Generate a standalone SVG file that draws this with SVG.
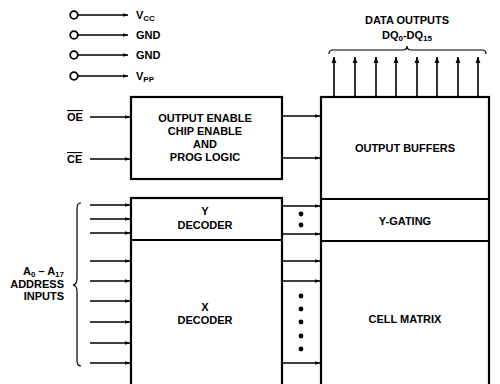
<svg xmlns="http://www.w3.org/2000/svg" width="500" height="384" viewBox="0 0 500 384">
<defs>
<marker id="ah" viewBox="0 0 10 10" refX="10" refY="5" markerWidth="7" markerHeight="5" orient="auto" markerUnits="userSpaceOnUse">
<path d="M0,1.5 L10,5 L0,8.5 Z" fill="#000"/>
</marker>
<marker id="au" viewBox="0 0 10 10" refX="10" refY="5" markerWidth="8" markerHeight="6" orient="auto" markerUnits="userSpaceOnUse">
<path d="M0,1 L10,5 L0,9 Z" fill="#000"/>
</marker>
</defs>
<style>
text{font-family:"Liberation Sans",Arial,sans-serif;font-weight:bold;font-size:11px;fill:#000}
.c{text-anchor:middle}
.r{text-anchor:end}
.box{fill:#fff;stroke:#000;stroke-width:2.2}
.div{stroke:#000;stroke-width:2;fill:none}
.ln{stroke:#000;stroke-width:1.3;fill:none;marker-end:url(#ah)}
.up{stroke:#000;stroke-width:1.6;fill:none;marker-end:url(#au)}
.pin{fill:#fff;stroke:#000;stroke-width:1.8}
.br{stroke:#000;stroke-width:1.2;fill:none}
.sub{font-size:8px}
</style>
<rect width="500" height="384" fill="#fff"/>

<g id="power">
<circle class="pin" cx="74" cy="15" r="3.8"/>
<circle class="pin" cx="74" cy="35" r="3.8"/>
<circle class="pin" cx="74" cy="55" r="3.8"/>
<circle class="pin" cx="74" cy="76" r="3.8"/>
<text x="136" y="19">V<tspan class="sub" dy="2">CC</tspan></text>
<text x="136" y="39">GND</text>
<text x="136" y="59">GND</text>
<text x="136" y="80">V<tspan class="sub" dy="2">PP</tspan></text>
</g>

<g id="data-outputs-label">
<text class="c" x="407" y="24">DATA OUTPUTS</text>
<text class="c" x="407" y="39">DQ<tspan class="sub" dy="2">0</tspan><tspan dy="-2">-DQ</tspan><tspan class="sub" dy="2">15</tspan></text>
<path class="br" d="M329,54 Q329,50 333,50 L403,50 Q407,50 407,46 Q407,50 411,50 L482,50 Q486,50 486,54"/>
</g>

<g id="oe-ce-labels">
<text x="67" y="121" style="text-decoration:overline">OE</text>
<text x="67" y="163" style="text-decoration:overline">CE</text>
</g>

<g id="address-label">
<text class="r" x="64" y="275">A<tspan class="sub" dy="2">0</tspan><tspan dy="-2"> – A</tspan><tspan class="sub" dy="2">17</tspan></text>
<text class="r" x="64" y="288">ADDRESS</text>
<text class="r" x="64" y="300">INPUTS</text>
<path class="br" d="M81,203 Q77,203 77,208 L77,279 Q77,284 73,285 Q77,286 77,291 L77,361 Q77,366 81,366"/>
</g>

<g id="control-logic">
<rect class="box" x="131" y="97" width="151" height="82"/>
<text class="c" x="205" y="122">OUTPUT ENABLE</text>
<text class="c" x="205" y="135">CHIP ENABLE</text>
<text class="c" x="205" y="148">AND</text>
<text class="c" x="205" y="161">PROG LOGIC</text>
</g>

<g id="decoders">
<rect class="box" x="131" y="198" width="151" height="190"/>
<line class="div" x1="131" y1="240" x2="282" y2="240"/>
<text class="c" x="205" y="215">Y</text>
<text class="c" x="205" y="229">DECODER</text>
<text class="c" x="205" y="311">X</text>
<text class="c" x="205" y="324">DECODER</text>
</g>

<g id="right-column">
<rect class="box" x="321" y="97" width="168" height="291"/>
<line class="div" x1="321" y1="199" x2="489" y2="199"/>
<line class="div" x1="321" y1="241" x2="489" y2="241"/>
<text class="c" x="405" y="152">OUTPUT BUFFERS</text>
<text class="c" x="405" y="225">Y-GATING</text>
<text class="c" x="405" y="323">CELL MATRIX</text>
</g>

<g id="connectors">
<line class="ln" x1="78" y1="15" x2="128" y2="15"/>
<line class="ln" x1="78" y1="35" x2="128" y2="35"/>
<line class="ln" x1="78" y1="55" x2="128" y2="55"/>
<line class="ln" x1="78" y1="76" x2="128" y2="76"/>

<line class="ln" x1="90" y1="117" x2="130" y2="117"/>
<line class="ln" x1="90" y1="159" x2="130" y2="159"/>

<line class="ln" x1="283" y1="116" x2="320" y2="116"/>
<line class="ln" x1="283" y1="158" x2="320" y2="158"/>

<line class="up" x1="334" y1="96" x2="334" y2="57"/>
<line class="up" x1="355" y1="96" x2="355" y2="57"/>
<line class="up" x1="376" y1="96" x2="376" y2="57"/>
<line class="up" x1="396" y1="96" x2="396" y2="57"/>
<line class="up" x1="417" y1="96" x2="417" y2="57"/>
<line class="up" x1="437" y1="96" x2="437" y2="57"/>
<line class="up" x1="458" y1="96" x2="458" y2="57"/>
<line class="up" x1="478" y1="96" x2="478" y2="57"/>

<line class="ln" x1="90" y1="205" x2="130" y2="205"/>
<line class="ln" x1="90" y1="219" x2="130" y2="219"/>
<line class="ln" x1="90" y1="233" x2="130" y2="233"/>
<line class="ln" x1="90" y1="261" x2="130" y2="261"/>
<line class="ln" x1="90" y1="281" x2="130" y2="281"/>
<line class="ln" x1="90" y1="301" x2="130" y2="301"/>
<line class="ln" x1="90" y1="322" x2="130" y2="322"/>
<line class="ln" x1="90" y1="343" x2="130" y2="343"/>
<line class="ln" x1="90" y1="363" x2="130" y2="363"/>

<line class="ln" x1="283" y1="206" x2="320" y2="206"/>
<line class="ln" x1="283" y1="234" x2="320" y2="234"/>
<line class="ln" x1="283" y1="261" x2="320" y2="261"/>
<line class="ln" x1="283" y1="281" x2="320" y2="281"/>
<line class="ln" x1="283" y1="363" x2="320" y2="363"/>

<g fill="#000">
<circle cx="301" cy="214" r="2.4"/>
<circle cx="301" cy="225" r="2.4"/>
<circle cx="301" cy="296" r="2.4"/>
<circle cx="301" cy="309" r="2.4"/>
<circle cx="301" cy="322" r="2.4"/>
<circle cx="301" cy="336" r="2.4"/>
<circle cx="301" cy="349" r="2.4"/>
</g>
</g>
</svg>
